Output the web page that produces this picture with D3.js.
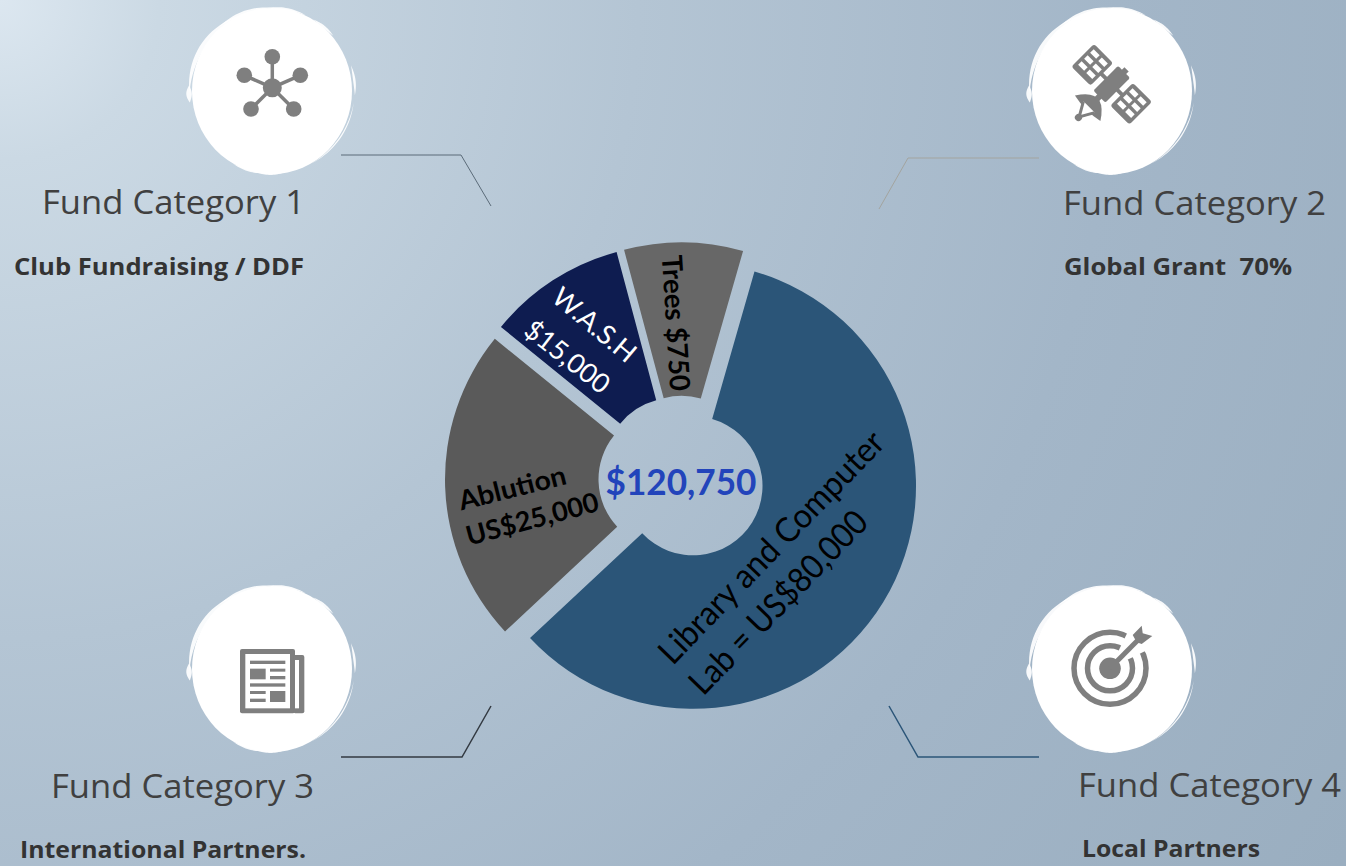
<!DOCTYPE html>
<html>
<head>
<meta charset="utf-8">
<script src="https://cdn.jsdelivr.net/npm/d3@7"></script>
<style>
html, body { margin: 0; padding: 0; background: #a9bbcb; overflow: hidden; }
svg { display: block; }
</style>
</head>
<body>
<svg id="chart" width="1346" height="866"></svg>
<script>
// slice names and the money amounts printed on them
var sliceNames = ["Library and Computer Lab", "Ablution", "W.A.S.H", "Trees"];
var sliceAmounts = [80000, 25000, 15000, 750];
// the drawn slices are not to scale with the amounts, these are the shares read off the picture
var sliceShares = [58.6, 22.8, 10.0, 8.6];
var totalLabel = "$120,750";

var categoryTitles = ["Fund Category 1", "Fund Category 2", "Fund Category 3", "Fund Category 4"];
var categoryNotes = ["Club Fundraising / DDF", "Global Grant\u00a0\u00a070%", "International Partners.", "Local Partners"];

var sliceColors = ["#2b5578", "#5a5a5a", "#0e1c50", "#676767"];
var iconGrey = "#7f7f7f";

var svg = d3.select("#chart");

// <--------------- background --------------->
var defs = svg.append("defs");
var bg = defs.append("radialGradient")
    .attr("id", "bg")
    .attr("gradientUnits", "userSpaceOnUse")
    .attr("cx", 0).attr("cy", 0).attr("r", 1595);
bg.append("stop").attr("offset", 0).attr("stop-color", "#dce7f0");
bg.append("stop").attr("offset", 0.1).attr("stop-color", "#cbd9e4");
bg.append("stop").attr("offset", 0.4).attr("stop-color", "#b4c5d4");
bg.append("stop").attr("offset", 0.7).attr("stop-color", "#a3b6c8");
bg.append("stop").attr("offset", 1).attr("stop-color", "#9aaec0");
svg.append("rect").attr("width", 1346).attr("height", 866).attr("fill", "url(#bg)");

// <--------------- doughnut --------------->
var cx = 681.5, cy = 478.8, explode = 13.5;
var outerR = 223, innerR = 69.5;
var pie = d3.pie().sort(null)
    .startAngle(16 * Math.PI / 180)
    .endAngle(376 * Math.PI / 180);
var arc = d3.arc().innerRadius(innerR).outerRadius(outerR);
var donut = svg.append("g").attr("transform", "translate(" + cx + "," + cy + ")");

donut.selectAll("path")
    .data(pie(sliceShares))
    .enter()
    .append("path")
    .attr("d", arc)
    .attr("fill", function (d, i) { return sliceColors[i]; })
    .attr("transform", function (d) {
        var mid = (d.startAngle + d.endAngle) / 2;
        return "translate(" + explode * Math.sin(mid) + "," + -explode * Math.cos(mid) + ")";
    });

var money = d3.format(",");

// rotated label lines inside the slices
var sliceLabels = [
    { text: "Library and Computer", x: 770, y: 546, rot: -46, len: 308, size: 34, weight: 400, fill: "#000" },
    { text: "Lab = US$" + money(sliceAmounts[0]), x: 777, y: 601, rot: -46, len: 240, size: 34, weight: 400, fill: "#000" },
    { text: sliceNames[1], x: 512, y: 487, rot: -14, len: 110, size: 27, weight: 700, fill: "#000" },
    { text: "US$" + money(sliceAmounts[1]), x: 532, y: 518, rot: -15, len: 136, size: 27, weight: 700, fill: "#000" },
    { text: sliceNames[2], x: 595, y: 324, rot: 40, len: 100, size: 27, weight: 400, fill: "#fff" },
    { text: "$" + money(sliceAmounts[2]), x: 568, y: 356, rot: 38, len: 100, size: 27, weight: 400, fill: "#fff" },
    { text: sliceNames[3] + " $" + money(sliceAmounts[3]), x: 677, y: 323, rot: 86.5, len: 136, size: 28, weight: 700, fill: "#000" }
];
svg.append("g").selectAll("text")
    .data(sliceLabels)
    .enter()
    .append("text")
    .attr("transform", function (d) { return "translate(" + d.x + "," + d.y + ") rotate(" + d.rot + ")"; })
    .attr("text-anchor", "middle")
    .attr("dominant-baseline", "central")
    .attr("font-family", "Lato, sans-serif")
    .attr("font-size", function (d) { return d.size; })
    .attr("font-weight", function (d) { return d.weight; })
    .attr("fill", function (d) { return d.fill; })
    .attr("textLength", function (d) { return d.len; })
    .attr("lengthAdjust", "spacingAndGlyphs")
    .text(function (d) { return d.text; });

svg.append("text")
    .attr("x", 681).attr("y", 495)
    .attr("text-anchor", "middle")
    .attr("font-family", "Lato, sans-serif")
    .attr("font-size", 36)
    .attr("font-weight", 700)
    .attr("fill", "#2244bb")
    .attr("textLength", 151)
    .attr("lengthAdjust", "spacingAndGlyphs")
    .text(totalLabel);

// <--------------- connector lines --------------->
var connectors = [
    { pts: [[341, 155], [461, 155], [491, 206]], stroke: "#5b6b79", w: 1 },
    { pts: [[1039, 158], [908, 158], [879, 209]], stroke: "#a3a49f", w: 1 },
    { pts: [[341, 757], [462, 757], [491, 706]], stroke: "#333a42", w: 1.5 },
    { pts: [[1039, 757], [918, 757], [889, 706]], stroke: "#2b5578", w: 1.5 }
];
var line = d3.line();
svg.append("g").selectAll("path")
    .data(connectors)
    .enter()
    .append("path")
    .attr("d", function (d) { return line(d.pts); })
    .attr("fill", "none")
    .attr("stroke", function (d) { return d.stroke; })
    .attr("stroke-width", function (d) { return d.w; });

// <--------------- white brushed discs --------------->
var discCentres = [[272, 91], [1112, 91], [272, 669], [1112, 669]];
// brush marks round the disc: [startDeg, endDeg, radius, width]
var brushMarks = [
    [262, 274, 83, 5.5], [268, 335, 82.5, 5], [320, 362, 83, 3.5], [355, 384, 83, 2.5],
    [30, 48, 82.5, 2.5], [72, 93, 83, 2.5], [98, 152, 82.5, 1.3],
    [184, 208, 82.5, 2.5], [172, 192, 82.5, 3]
];
// tapered mark, thickest in the middle of its sweep
function brushPath(m) {
    var upper = d3.range(0, 1.001, 0.05).map(function (t) {
        var a = (m[0] + (m[1] - m[0]) * t) * Math.PI / 180;
        var r = m[2] + m[3] / 2 * Math.sin(t * Math.PI);
        return [r * Math.sin(a), -r * Math.cos(a)];
    });
    var lower = d3.range(1, -0.001, -0.05).map(function (t) {
        var a = (m[0] + (m[1] - m[0]) * t) * Math.PI / 180;
        var r = m[2] - m[3] / 2 * Math.sin(t * Math.PI);
        return [r * Math.sin(a), -r * Math.cos(a)];
    });
    return line(upper.concat(lower)) + "Z";
}
var discs = svg.append("g").selectAll("g")
    .data(discCentres)
    .enter()
    .append("g")
    .attr("transform", function (d) { return "translate(" + d[0] + "," + d[1] + ")"; });
discs.append("ellipse").attr("rx", 80).attr("ry", 83).attr("fill", "#fff");
discs.selectAll("path")
    .data(brushMarks)
    .enter()
    .append("path")
    .attr("fill", "#fff")
    .attr("fill-opacity", 0.92)
    .attr("d", brushPath);

// <--------------- icons --------------->
// network
var net = svg.append("g").attr("fill", iconGrey).attr("stroke", iconGrey);
var netHub = [272.3, 87.7];
var netNodes = [[272.3, 56.7], [244.3, 75.3], [300.3, 75.3], [251, 109], [293.7, 109]];
netNodes.forEach(function (n) {
    net.append("line").attr("x1", netHub[0]).attr("y1", netHub[1]).attr("x2", n[0]).attr("y2", n[1]).attr("stroke-width", 3.5);
    net.append("circle").attr("cx", n[0]).attr("cy", n[1]).attr("r", 7.8).attr("stroke", "none");
});
net.append("circle").attr("cx", netHub[0]).attr("cy", netHub[1]).attr("r", 9.5).attr("stroke", "none");

// satellite
var sat = svg.append("g").attr("transform", "translate(1111.7,84.3) rotate(45)").attr("fill", iconGrey);
sat.append("rect").attr("x", -8.5).attr("y", -17.5).attr("width", 17).attr("height", 35).attr("rx", 2);
sat.append("rect").attr("x", -3).attr("y", -21).attr("width", 6).attr("height", 5);
sat.append("rect").attr("x", -15).attr("y", -2).attr("width", 30).attr("height", 4);
sat.append("rect").attr("x", -3).attr("y", 15).attr("width", 6).attr("height", 10);
[-41, 14].forEach(function (px) {
    sat.append("rect").attr("x", px).attr("y", -16).attr("width", 27).attr("height", 32).attr("rx", 3);
    [3.5, 15].forEach(function (sx) {
        [-12, -3.5, 5].forEach(function (sy) {
            sat.append("rect").attr("x", px + sx).attr("y", sy).attr("width", 8.5).attr("height", 5).attr("fill", "#fff");
        });
    });
});
sat.append("path").attr("d", "M-18,34 Q0,6 18,34 Q0,38 -18,34 Z");
sat.append("path").attr("d", "M-8,32 L0,46 L8,32").attr("fill", "#fff").attr("stroke", iconGrey).attr("stroke-width", 3);
sat.append("circle").attr("cy", 47).attr("r", 3.6);

// newspaper
var news = svg.append("g").attr("fill", iconGrey);
function nr(x0, y0, x1, y1, fill) {
    return news.append("rect")
        .attr("x", 170 + x0 / 3).attr("y", 580 + y0 / 3)
        .attr("width", (x1 - x0) / 3).attr("height", (y1 - y0) / 3)
        .attr("fill", fill || iconGrey);
}
nr(210, 207, 375, 400).attr("rx", 2);
nr(370, 225, 403, 400).attr("rx", 2);
nr(226, 222, 360, 385, "#fff");
nr(375, 240, 387, 385, "#fff");
nr(240, 242, 346, 252);
nr(240, 266, 287, 298);
nr(300, 266, 346, 275);
nr(300, 288, 346, 298);
nr(240, 310, 346, 320);
nr(240, 333, 287, 342);
nr(240, 356, 287, 366);
nr(300, 333, 346, 366);

// target
var tgt = svg.append("g");
tgt.append("circle").attr("cx", 1110).attr("cy", 668.3).attr("r", 36).attr("fill", "none").attr("stroke", iconGrey).attr("stroke-width", 5.5);
tgt.append("circle").attr("cx", 1110).attr("cy", 668.3).attr("r", 22.5).attr("fill", "none").attr("stroke", iconGrey).attr("stroke-width", 5.5);
// gap in the rings where the arrow goes in
tgt.append("path")
    .attr("transform", "translate(1110,668.3)")
    .attr("fill", "#fff")
    .attr("d", d3.arc()({ innerRadius: 0, outerRadius: 41, startAngle: 26 * Math.PI / 180, endAngle: 64 * Math.PI / 180 }));
tgt.append("circle").attr("cx", 1110).attr("cy", 668.3).attr("r", 10.8).attr("fill", iconGrey);
tgt.append("line").attr("x1", 1110).attr("y1", 668.3).attr("x2", 1138).attr("y2", 640).attr("stroke", iconGrey).attr("stroke-width", 5);
tgt.append("path").attr("d", "M1141.7,625.7 L1142.7,633.3 L1152.3,636 L1141.7,644 L1136.7,642.3 L1132.7,635 Z").attr("fill", iconGrey);

// <--------------- category captions --------------->
var titlePos = [[42, 214], [1063, 215], [51, 798], [1078, 797]];
var notePos = [[14, 275, 290], [1064, 275, 228], [20, 858, 286], [1082, 857, 178]];

svg.append("g").selectAll("text")
    .data(categoryTitles)
    .enter()
    .append("text")
    .attr("x", function (d, i) { return titlePos[i][0]; })
    .attr("y", function (d, i) { return titlePos[i][1]; })
    .attr("font-family", "'Open Sans', sans-serif")
    .attr("font-size", 33)
    .attr("fill", "#404040")
    .attr("textLength", 263)
    .attr("lengthAdjust", "spacingAndGlyphs")
    .text(function (d) { return d; });

svg.append("g").selectAll("text")
    .data(categoryNotes)
    .enter()
    .append("text")
    .attr("x", function (d, i) { return notePos[i][0]; })
    .attr("y", function (d, i) { return notePos[i][1]; })
    .attr("font-family", "'Open Sans', sans-serif")
    .attr("font-size", 24)
    .attr("font-weight", 700)
    .attr("fill", "#333")
    .attr("textLength", function (d, i) { return notePos[i][2]; })
    .attr("lengthAdjust", "spacingAndGlyphs")
    .text(function (d) { return d; });
</script>
</body>
</html>
